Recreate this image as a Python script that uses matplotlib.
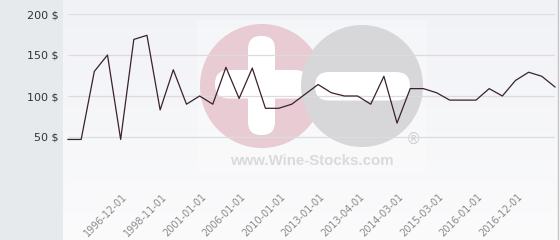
import matplotlib
matplotlib.use("Agg")
import matplotlib.pyplot as plt
import numpy as np
from matplotlib.patches import Circle, FancyBboxPatch, Rectangle
from matplotlib.transforms import ScaledTranslation

# ---- data ----
values = [47, 47, 130, 150, 47, 169, 174, 83, 132, 90, 100, 90, 135, 97, 134, 85,
          85, 90, 102, 114, 104, 100, 100, 90, 124, 67, 109, 109, 104, 95, 95, 95,
          109, 100, 119, 129, 124, 111]
tick_labels = ["1996-12-01", "1998-11-01", "2001-01-01", "2006-01-01", "2010-01-01",
               "2013-01-01", "2013-04-01", "2014-03-01", "2015-03-01", "2016-01-01",
               "2016-12-01"]
first_labelled = 4
label_step = 3
y_ticks = [50, 100, 150, 200]
y_tick_labels = ["50 $", "100 $", "150 $", "200 $"]

W, H = 560, 240
fig = plt.figure(figsize=(W / 100, H / 100), dpi=100, facecolor="white")

# ---- background / watermark overlay (pixel coordinates) ----
bg = fig.add_axes([0, 0, 1, 1], zorder=0)
bg.set_xlim(0, W)
bg.set_ylim(H, 0)
bg.axis("off")
bg.add_patch(Rectangle((0, 0), 63, H, color="#e6eaed", lw=0))
grad = np.linspace(0, 1, 256).reshape(-1, 1)
top = np.array([241, 242, 246]) / 255
bot = np.array([251, 251, 252]) / 255
img = top[None, None, :] * (1 - grad[:, :, None]) + bot[None, None, :] * grad[:, :, None]
bg.imshow(img, extent=[63, 558, H, 0], aspect="auto", interpolation="bilinear", zorder=0.5)
bg.add_patch(Rectangle((197, 20), 230, 153, color="white", alpha=0.28, lw=0, zorder=1))
bg.add_patch(Circle((262, 86), 62, color="#e8cbd3", lw=0, zorder=2))
bg.add_patch(FancyBboxPatch((248 + 13, 36 + 13), 1, 99 - 26,
                            boxstyle="round,pad=13", color="white", lw=0, zorder=3))
bg.add_patch(FancyBboxPatch((215 + 14, 70 + 14), 94 - 28, 0.5,
                            boxstyle="round,pad=14", color="white", lw=0, zorder=3))
bg.add_patch(Circle((362, 86), 61, color="#d7d7d9", lw=0, zorder=4))
bg.add_patch(FancyBboxPatch((315 + 14, 72 + 14), 95 - 28, 0.5,
                            boxstyle="round,pad=14", color="white", lw=0, zorder=5))
bg.text(312, 161, "www.Wine-Stocks.com", ha="center", va="center",
        fontsize=10.8, fontweight="bold", family="Liberation Sans", color="#dadada", zorder=5)
bg.text(413, 139, "\u00ae", ha="center", va="center", fontsize=11,
        family="DejaVu Sans", color="#d0d0d0", zorder=5)
bg.plot([558, 558], [0, H], color="#c4c4c4", lw=1.0, zorder=6)

# ---- data axes ----
n = len(values)
x = np.arange(n)
ax = fig.add_axes([68 / W, (H - 178) / H, (555 - 68) / W, (178 - 14) / H], zorder=2)
ax.patch.set_alpha(0)
ax.set_xlim(0, n - 1)
ax.set_ylim(0, 200)
for s in ax.spines.values():
    s.set_visible(False)
ax.hlines([0] + y_ticks, 0, n - 1, colors="#dcdcdc", lw=0.9, zorder=1)
ax.plot(x, values, color="#3a2030", lw=0.9, zorder=3, clip_on=False)

ax.set_yticks(y_ticks)
ax.set_yticklabels(y_tick_labels)
ax.tick_params(axis="y", length=0, pad=6.5, labelsize=8, labelcolor="#333333")

tick_pos = list(range(first_labelled, n, label_step))[:len(tick_labels)]
ax.set_xticks(tick_pos)
ax.set_xticklabels(tick_labels, rotation=45, ha="right", va="center",
                   rotation_mode="anchor", fontsize=7, color="#8a8a8a")
ax.tick_params(axis="x", length=0, pad=0)
off = ScaledTranslation(5 / 100, -17 / 100, fig.dpi_scale_trans)
for lbl in ax.get_xticklabels():
    lbl.set_transform(lbl.get_transform() + off)

fig.savefig("out.png", dpi=100, facecolor="white")
